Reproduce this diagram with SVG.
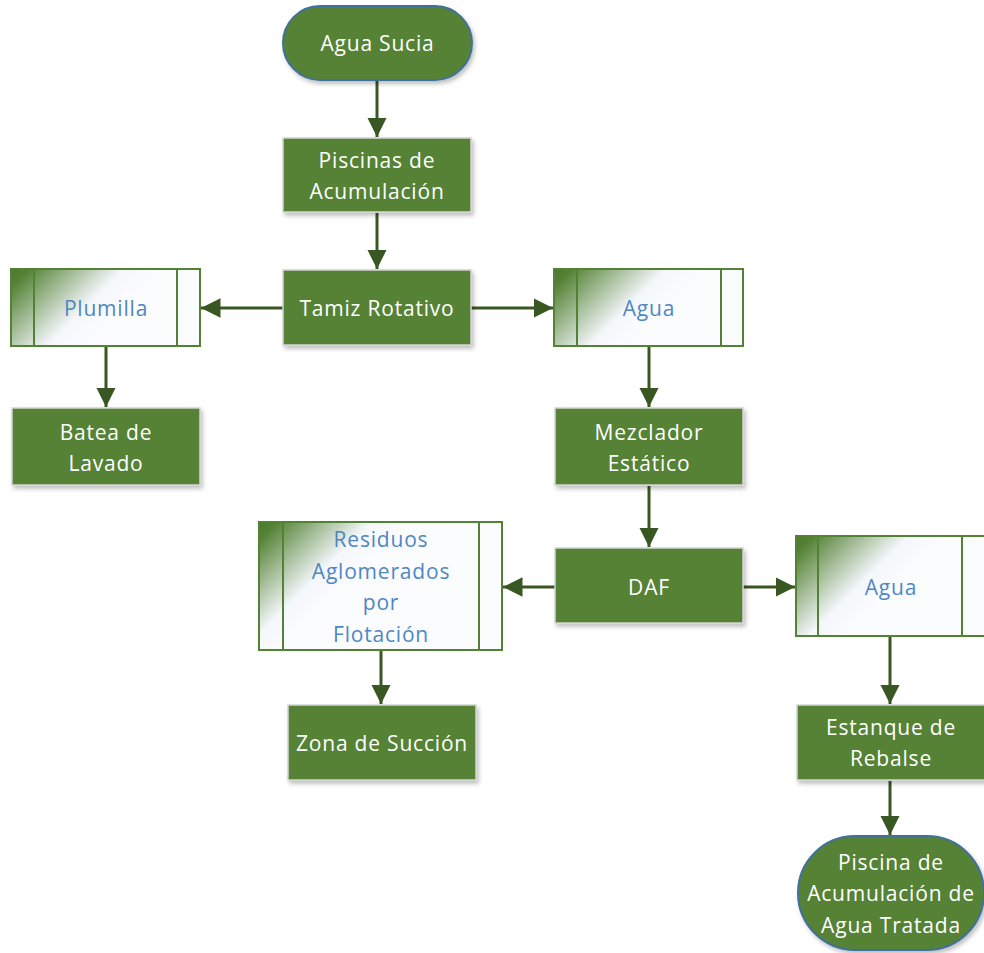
<svg xmlns="http://www.w3.org/2000/svg" width="984" height="953" viewBox="0 0 984 953">
  <style>
    .proc { fill: #548235; stroke: #d4d4d4; stroke-width: 1.5; filter: url(#shadow); }
    .term { fill: #548235; stroke: #41719c; stroke-width: 2; filter: url(#shadow); }
    .data { stroke: #548235; stroke-width: 2; }
    .bar { stroke: #548235; stroke-width: 2; }
    .wt { fill: #ffffff; font-family: "Open Sans", "Liberation Sans", sans-serif; font-size: 21px; letter-spacing: 0.8px; text-anchor: middle; }
    .bt { fill: #4f87c2; font-family: "Open Sans", "Liberation Sans", sans-serif; font-size: 21px; letter-spacing: 0.8px; text-anchor: middle; }
    .link { stroke: #385723; stroke-width: 3; fill: none; marker-end: url(#head); }
  </style>
  <defs>
    <filter id="shadow" x="-10%" y="-10%" width="130%" height="140%">
      <feDropShadow dx="2" dy="3" stdDeviation="2" flood-color="#000" flood-opacity="0.25"/>
    </filter>
    <!-- dark green corner fading into a pale fill; one copy per data box -->
    <linearGradient id="corner" gradientUnits="userSpaceOnUse" x1="0" y1="0" x2="75" y2="75">
      <stop offset="0" stop-color="#4a7a2e"/>
      <stop offset="0.12" stop-color="#548235"/>
      <stop offset="0.75" stop-color="#f4f7fb"/>
      <stop offset="1" stop-color="#fbfcfe"/>
    </linearGradient>
    <linearGradient id="c1" href="#corner" gradientUnits="userSpaceOnUse" x1="11" y1="269" x2="86" y2="344"/>
    <linearGradient id="c2" href="#corner" gradientUnits="userSpaceOnUse" x1="554" y1="269" x2="629" y2="344"/>
    <linearGradient id="c3" href="#corner" gradientUnits="userSpaceOnUse" x1="259" y1="522" x2="334" y2="597"/>
    <linearGradient id="c4" href="#corner" gradientUnits="userSpaceOnUse" x1="796" y1="536" x2="871" y2="611"/>
    <marker id="head" viewBox="0 0 10 10" refX="10" refY="5" markerWidth="6.5" markerHeight="6.5" markerUnits="strokeWidth" orient="auto">
      <path d="M0,0 L10,5 L0,10 Z" fill="#385723"/>
    </marker>
  </defs>

  <g id="connectors">
    <line class="link" x1="377" y1="81" x2="377" y2="137"/>
    <line class="link" x1="377" y1="213" x2="377" y2="269"/>
    <line class="link" x1="283" y1="308" x2="201" y2="308"/>
    <line class="link" x1="471" y1="308" x2="553" y2="308"/>
    <line class="link" x1="106" y1="347" x2="106" y2="407"/>
    <line class="link" x1="649" y1="347" x2="649" y2="407"/>
    <line class="link" x1="649" y1="486" x2="649" y2="547"/>
    <line class="link" x1="555" y1="587" x2="503" y2="587"/>
    <line class="link" x1="743" y1="587" x2="795" y2="587"/>
    <line class="link" x1="381" y1="651" x2="381" y2="704"/>
    <line class="link" x1="890" y1="637" x2="890" y2="704"/>
    <line class="link" x1="890" y1="781" x2="890" y2="835"/>
  </g>

  <g id="agua-sucia">
    <rect class="term" x="283" y="6" width="189" height="74" rx="37"/>
    <text class="wt" x="377.5" y="51">Agua Sucia</text>
  </g>

  <g id="piscinas-acumulacion">
    <rect class="proc" x="283" y="138" width="188" height="74"/>
    <text class="wt" x="377" y="168">Piscinas de</text>
    <text class="wt" x="377" y="199">Acumulación</text>
  </g>

  <g id="tamiz-rotativo">
    <rect class="proc" x="283" y="270" width="188" height="75"/>
    <text class="wt" x="377" y="316">Tamiz Rotativo</text>
  </g>

  <g id="plumilla">
    <rect class="data" x="11" y="269" width="189" height="77" fill="url(#c1)"/>
    <line class="bar" x1="34" y1="269" x2="34" y2="346"/>
    <line class="bar" x1="177" y1="269" x2="177" y2="346"/>
    <text class="bt" x="106" y="316">Plumilla</text>
  </g>

  <g id="agua-1">
    <rect class="data" x="554" y="269" width="189" height="77" fill="url(#c2)"/>
    <line class="bar" x1="577" y1="269" x2="577" y2="346"/>
    <line class="bar" x1="721" y1="269" x2="721" y2="346"/>
    <text class="bt" x="649" y="316">Agua</text>
  </g>

  <g id="batea-lavado">
    <rect class="proc" x="12" y="408" width="188" height="77"/>
    <text class="wt" x="106" y="440">Batea de</text>
    <text class="wt" x="106" y="471">Lavado</text>
  </g>

  <g id="mezclador-estatico">
    <rect class="proc" x="555" y="408" width="188" height="77"/>
    <text class="wt" x="649" y="440">Mezclador</text>
    <text class="wt" x="649" y="471">Estático</text>
  </g>

  <g id="daf">
    <rect class="proc" x="555" y="548" width="188" height="75"/>
    <text class="wt" x="649" y="595">DAF</text>
  </g>

  <g id="residuos">
    <rect class="data" x="259" y="522" width="243" height="128" fill="url(#c3)"/>
    <line class="bar" x1="283" y1="522" x2="283" y2="650"/>
    <line class="bar" x1="479" y1="522" x2="479" y2="650"/>
    <text class="bt" x="381" y="547">Residuos</text>
    <text class="bt" x="381" y="579">Aglomerados</text>
    <text class="bt" x="381" y="610">por</text>
    <text class="bt" x="381" y="642">Flotación</text>
  </g>

  <g id="agua-2">
    <rect class="data" x="796" y="536" width="189" height="100" fill="url(#c4)"/>
    <line class="bar" x1="818" y1="536" x2="818" y2="636"/>
    <line class="bar" x1="962" y1="536" x2="962" y2="636"/>
    <text class="bt" x="891" y="595">Agua</text>
  </g>

  <g id="zona-succion">
    <rect class="proc" x="288" y="705" width="188" height="75"/>
    <text class="wt" x="382" y="751">Zona de Succión</text>
  </g>

  <g id="estanque-rebalse">
    <rect class="proc" x="797" y="705" width="188" height="75"/>
    <text class="wt" x="891" y="735">Estanque de</text>
    <text class="wt" x="891" y="766">Rebalse</text>
  </g>

  <g id="piscina-agua-tratada">
    <rect class="term" x="798" y="836" width="186" height="114" rx="57"/>
    <text class="wt" x="891" y="870">Piscina de</text>
    <text class="wt" x="891" y="901">Acumulación de</text>
    <text class="wt" x="891" y="933">Agua Tratada</text>
  </g>
</svg>
